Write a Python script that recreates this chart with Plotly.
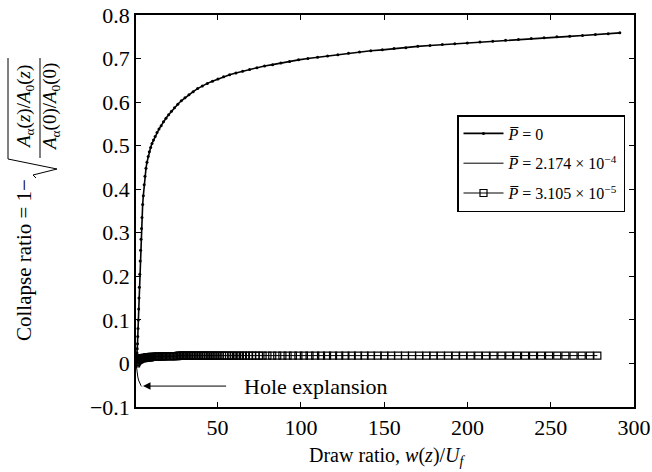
import plotly.graph_objects as go

# ---------------- data ----------------
p0_x = [1, 1.1, 1.2, 1.3, 1.45, 1.6, 1.75, 1.9, 2.05, 2.2,
        2.4, 2.6, 2.8, 3.0, 3.25, 3.5, 3.75, 4.0, 4.3, 4.6,
        5.0, 5.4, 5.9, 6.4, 7.0, 7.6, 8.3, 9.0, 9.8, 10.6,
        11.5, 12.5, 13.6, 14.8, 16.1, 17.5, 19.0, 20.6, 22.3, 24.1,
        26.1, 28.2, 30.4, 32.8, 35.3, 38.0, 40.8, 43.8, 46.9, 50.2,
        53.6, 57.2, 61.0, 65.0, 69.2, 73.6, 78.2, 83.0, 88.0, 93.2,
        98.6, 104.2, 110.0, 116.0, 122.2, 128.6, 135.2, 142.0, 148.9, 155.9,
        163.0, 170.2, 177.5, 184.9, 192.4, 199.9, 207.5, 215.2, 222.9, 230.6,
        238.3, 246.0, 253.7, 261.4, 269.1, 276.8, 284.5, 291.5]
p0_y = [0.0, 0.003, 0.006, 0.010, 0.016, 0.024, 0.034, 0.045, 0.062, 0.080,
        0.100, 0.125, 0.150, 0.175, 0.205, 0.235, 0.260, 0.285, 0.310, 0.335,
        0.365, 0.385, 0.410, 0.430, 0.448, 0.462, 0.475, 0.486, 0.496, 0.505,
        0.513, 0.521, 0.530, 0.538, 0.546, 0.555, 0.563, 0.571, 0.579, 0.587,
        0.595, 0.603, 0.610, 0.617, 0.624, 0.631, 0.637, 0.643, 0.648, 0.653,
        0.658, 0.663, 0.667, 0.671, 0.675, 0.679, 0.683, 0.686, 0.690, 0.693,
        0.697, 0.700, 0.703, 0.706, 0.709, 0.712, 0.715, 0.718, 0.720, 0.723,
        0.725, 0.728, 0.730, 0.732, 0.734, 0.736, 0.738, 0.740, 0.742, 0.744,
        0.746, 0.748, 0.750, 0.751, 0.753, 0.755, 0.757, 0.759]

hole_x = [1, 1.2, 1.5, 1.8, 2.1, 2.5, 3.0, 3.5, 4.0, 4.5]
hole_y = [0.0, -0.008, -0.016, -0.024, -0.031, -0.038, -0.044, -0.048, -0.051, -0.053]

sq_x = [1, 1.3, 1.6, 2, 2.4, 2.8, 3.3, 3.8, 4.4,
        5, 5.5, 6, 6.5, 7, 7.6, 8.2, 8.8, 9.4, 10,
        10.7, 11.4, 12.1, 12.8, 13.5, 14.2, 15, 15.8, 16.6, 17.4,
        18.2, 19, 19.8, 20.6, 21.4, 22.2, 23, 23.9, 24.8, 25.7,
        26.6, 27.5, 28.4, 29.3, 30.2, 31.1, 32, 33, 34, 35,
        36, 37, 38, 39, 40, 41, 42, 43.1, 44.2, 45.3,
        46.4, 47.6, 48.8, 50, 51.3, 52.6, 54, 55.4, 56.9, 58.4,
        60, 61.7, 63.4, 65.2, 67, 68.9, 70.8, 72.8, 74.8, 77,
        79.9, 82.8, 85.8, 88.9, 92, 95.2,
        98.5, 101.8, 105.2, 108.6, 112.1, 115.7, 119.3, 123, 126.7, 130.5,
        134.3, 138.2, 142.1, 146.1, 150.1, 154.2, 158.3, 162.5, 166.7, 171,
        175.3, 179.6, 184, 188.4, 192.9, 197.4, 201.9, 206.5, 211.1, 215.7,
        220.4, 225.1, 229.8, 234.6, 239.4, 244.2, 249, 253.9, 258.8, 263.7,
        268.6, 273.5, 278]
sq_y = [0.0, 0.003, 0.005, 0.007, 0.008, 0.009, 0.010, 0.011, 0.012,
        0.012, 0.012, 0.013, 0.013, 0.013, 0.014, 0.014, 0.014, 0.014, 0.015,
        0.015, 0.015, 0.015, 0.015, 0.016, 0.016, 0.016, 0.016, 0.016, 0.016,
        0.017, 0.017, 0.017, 0.017, 0.017, 0.017, 0.017, 0.017, 0.017, 0.017,
        0.018, 0.018, 0.018, 0.018, 0.018, 0.018, 0.018, 0.018, 0.018, 0.018,
        0.018, 0.018, 0.018, 0.018, 0.018, 0.018, 0.018, 0.018, 0.018, 0.018,
        0.018, 0.018, 0.018, 0.018, 0.018, 0.018, 0.018, 0.018, 0.018, 0.018,
        0.018, 0.018, 0.018, 0.018, 0.018, 0.018, 0.018, 0.018, 0.018, 0.018,
        0.018, 0.018, 0.018, 0.018, 0.018, 0.018,
        0.018, 0.018, 0.018, 0.018, 0.018, 0.018, 0.018, 0.018, 0.018, 0.018,
        0.018, 0.018, 0.018, 0.018, 0.018, 0.018, 0.018, 0.018, 0.018, 0.018,
        0.018, 0.018, 0.018, 0.018, 0.018, 0.018, 0.018, 0.018, 0.018, 0.018,
        0.018, 0.018, 0.018, 0.018, 0.018, 0.018, 0.018, 0.018, 0.018, 0.018,
        0.018, 0.018, 0.018]
assert len(sq_x) == len(sq_y) and len(p0_x) == len(p0_y)

series_names = ["<i>P\u0305</i> = 0",
                "<i>P\u0305</i> = 2.174 \u00d7 10<sup>\u22124</sup>",
                "<i>P\u0305</i> = 3.105 \u00d7 10<sup>\u22125</sup>"]

x_ticks = [50, 100, 150, 200, 250, 300]
y_ticks = [-0.1, 0, 0.1, 0.2, 0.3, 0.4, 0.5, 0.6, 0.7, 0.8]
y_ticktext = ["\u22120.1", "0", "0.1", "0.2", "0.3", "0.4", "0.5", "0.6", "0.7", "0.8"]

SERIF = "Liberation Serif, Times New Roman, Tinos, DejaVu Serif, serif"

# ---------------- figure ----------------
fig = go.Figure()
fig.add_trace(go.Scatter(x=p0_x, y=p0_y, mode="lines+markers", name=series_names[0],
                         line=dict(color="black", width=1.6),
                         marker=dict(symbol="circle", size=3, color="black"),
                         legendgroup="a"))
fig.add_trace(go.Scatter(x=hole_x, y=hole_y, mode="lines", name=series_names[1],
                         line=dict(color="black", width=1),
                         legendgroup="b"))
fig.add_trace(go.Scatter(x=sq_x, y=sq_y, mode="lines+markers", name=series_names[2],
                         line=dict(color="black", width=1),
                         marker=dict(symbol="square-open", size=7, color="black",
                                     line=dict(width=1.2, color="black")),
                         legendgroup="c"))

L, R, T, B = 136, 634, 15, 407
W, H = 652, 472


def px(x):
    return (x - L) / (R - L)


def py(y):
    return (B - y) / (B - T)


axis_common = dict(showgrid=False, zeroline=False, showline=True, linecolor="black",
                   linewidth=1.5, mirror="ticks", ticks="inside", ticklen=5,
                   tickwidth=1, tickcolor="black", automargin=False,
                   tickfont=dict(family=SERIF, size=22, color="black"))

fig.update_xaxes(range=[1, 300], tickmode="array", tickvals=x_ticks, **axis_common)
fig.update_yaxes(range=[-0.1, 0.8], tickmode="array", tickvals=y_ticks,
                 ticktext=y_ticktext, **axis_common)

annotations = [
    # x-axis title
    dict(x=px(387), y=py(456), xref="paper", yref="paper", showarrow=False,
         text="Draw ratio, <i>w</i>(<i>z</i>)/<i>U<sub>f</sub></i>",
         font=dict(family=SERIF, size=20, color="black"),
         xanchor="center", yanchor="middle"),
    # y-axis title pieces (rotated)
    dict(x=px(24), y=py(260), xref="paper", yref="paper", showarrow=False,
         text="Collapse ratio = 1\u2212", textangle=-90,
         font=dict(family=SERIF, size=21, color="black"),
         xanchor="center", yanchor="middle"),
    dict(x=px(25), y=py(107), xref="paper", yref="paper", showarrow=False,
         text="<i>A</i><sub>\u03b1</sub>(<i>z</i>)/<i>A</i><sub>0</sub>(<i>z</i>)",
         textangle=-90, font=dict(family=SERIF, size=19, color="black"),
         xanchor="center", yanchor="middle"),
    dict(x=px(51), y=py(107), xref="paper", yref="paper", showarrow=False,
         text="<i>A</i><sub>\u03b1</sub>(0)/<i>A</i><sub>0</sub>(0)",
         textangle=-90, font=dict(family=SERIF, size=19, color="black"),
         xanchor="center", yanchor="middle"),
    # Hole expansion annotation
    dict(x=5.2, y=-0.052, ax=56, ay=-0.052, xref="x", yref="y", axref="x", ayref="y",
         showarrow=True, arrowhead=2, arrowsize=1.5, arrowwidth=1, arrowcolor="black",
         text=""),
    dict(x=64.5, y=-0.052, xref="x", yref="y", showarrow=False,
         text="Hole explansion", font=dict(family=SERIF, size=22, color="black"),
         xanchor="left", yanchor="middle"),
]

shapes = [
    # fraction bar
    dict(type="line", xref="paper", yref="paper", x0=px(40), x1=px(40),
         y0=py(158), y1=py(58), line=dict(color="black", width=1)),
    # radical sign with overbar
    dict(type="path", xref="paper", yref="paper",
         path=(f"M {px(36)},{py(178)} L {px(33)},{py(175)} L {px(57)},{py(169)} "
               f"L {px(8)},{py(159)} L {px(8)},{py(58)}"),
         line=dict(color="black", width=1)),
]

fig.update_layout(
    width=W, height=H,
    margin=dict(l=L, r=W - R, t=T, b=H - B, pad=0),
    plot_bgcolor="white", paper_bgcolor="white",
    font=dict(family=SERIF, color="black"),
    showlegend=True,
    legend=dict(x=px(457), y=py(115), xanchor="left", yanchor="top",
                bgcolor="white", bordercolor="black", borderwidth=1.5,
                font=dict(family=SERIF, size=16, color="black"),
                itemwidth=40, tracegroupgap=6, traceorder="grouped"),
    annotations=annotations,
    shapes=shapes,
)

fig.write_html("out.html", config={"displayModeBar": False},
               post_script="document.body.style.margin='0px';")
